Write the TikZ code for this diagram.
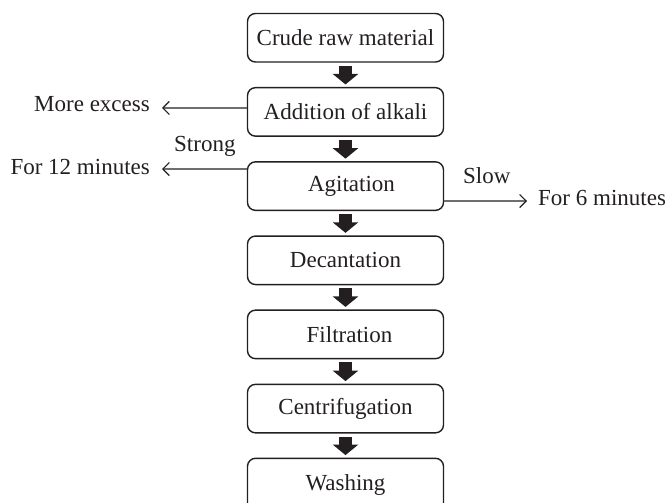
\documentclass[tikz,border=0pt]{standalone}
\usepackage{fontspec}
\setmainfont{Liberation Serif}
\usetikzlibrary{arrows.meta}
\definecolor{ink}{HTML}{231F20}
\begin{document}
\begin{tikzpicture}[x=1pt,y=1pt,
  every node/.style={text=ink,font=\fontsize{23}{27}\selectfont},
  stepbox/.style={draw=ink,line width=1.4pt,rounded corners=8pt,minimum width=196pt,minimum height=48.5pt,inner sep=0pt},
  blockarrow/.style={draw=ink,line width=13pt,-{Triangle[length=10.5pt,width=25pt]}},
  sidearrow/.style={draw=ink,line width=1.2pt,-{Straight Barb[length=6.5pt,width=13pt]}},
  lbl/.style={inner sep=0pt}]
\useasboundingbox (0,0) rectangle (665,-503);
\clip (0,0) rectangle (665,-503);
\node[stepbox] (b1) at (345.5,-37.75) {Crude raw material};
\node[stepbox] (b2) at (345.5,-111.9) {Addition of alkali};
\node[stepbox] (b3) at (345.5,-186.1) {\hspace*{12pt}Agitation};
\node[stepbox] (b4) at (345.5,-260.3) {Decantation};
\node[stepbox] (b5) at (345.5,-334.4) {\hspace*{8pt}Filtration};
\node[stepbox] (b6) at (345.5,-408.6) {Centrifugation};
\node[stepbox,minimum height=60pt] (b7) at (345.5,-488.3) {\raisebox{11pt}{Washing}};
\foreach \a/\b in {b1/b2,b2/b3,b3/b4,b4/b5,b5/b6,b6/b7}
  \draw[blockarrow] ([yshift=-3pt]\a.south) -- ([yshift=2.5pt]\b.north);
\coordinate (tMore) at (162,-108);
\coordinate (tTwelve) at (162,-169);
\coordinate (tSix) at (527,-201);
\draw[sidearrow] ([yshift=4pt]b2.west) -- (tMore);
\draw[sidearrow] ([yshift=17pt]b3.west) -- (tTwelve);
\draw[sidearrow] ([yshift=-15pt]b3.east) -- (tSix);
\node[lbl,anchor=base east] (lMore) at (150,-112) {More excess};
\node[lbl,anchor=base east] (lTwelve) at (150,-175) {For 12 minutes};
\node[lbl,anchor=base west] (lStrong) at (174,-151) {Strong};
\node[lbl,anchor=base west] (lSlow) at (463,-183) {Slow};
\node[lbl,anchor=base west] (lSix) at (538,-205) {For 6 minutes};
\end{tikzpicture}
\end{document}
